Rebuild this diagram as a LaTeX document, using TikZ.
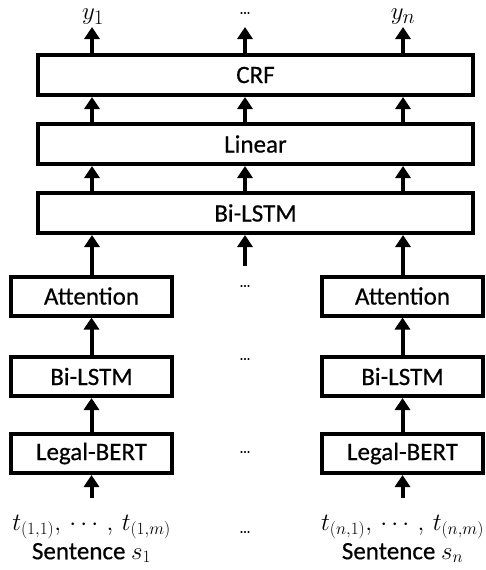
\documentclass[tikz,border=0pt]{standalone}
\usepackage{fontspec}
\setmainfont{Carlito}[FakeBold=0.5]
\usetikzlibrary{arrows.meta}
\tikzset{
  box/.style={draw, line width=4pt, rectangle, inner sep=0pt, font=\fontsize{25}{28}\selectfont},
  wide/.style={box, minimum width=435pt, minimum height=40pt},
  small/.style={box, minimum width=161pt, minimum height=39pt},
  arr/.style={line width=4pt, -{Triangle[width=15pt,length=12pt]}},
  lbl/.style={font=\fontsize{25}{28}\selectfont, inner sep=0pt},
  ylbl/.style={font=\fontsize{30}{32}\selectfont, inner sep=0pt},
  dots/.style={font=\fontsize{14}{16}\selectfont, inner sep=0pt}
}
\begin{document}
\begin{tikzpicture}[x=1pt,y=-1pt]
\useasboundingbox (0,0) rectangle (486,570);
% big boxes
\node[wide] (crf) at (255.5,75) {CRF};
\node[wide] (lin) at (255.5,144) {Linear};
\node[wide] (bil) at (255.5,213) {Bi-LSTM};
% small boxes
\node[small] (attL) at (91.5,296) {Attention};
\node[small] (bilL) at (91.5,376.5) {Bi-LSTM};
\node[small] (berL) at (91.5,453.5) {Legal-BERT};
\node[small] (attR) at (402.5,296) {Attention};
\node[small] (bilR) at (402.5,376.5) {Bi-LSTM};
\node[small] (berR) at (402.5,453.5) {Legal-BERT};
% column coordinates
\coordinate (cL) at (92,0);
\coordinate (cM) at (245,0);
\coordinate (cR) at (403,0);
% outputs
\node[ylbl] (y1) at (93,17) {$y_1$};
\node[dots] (ydots) at (245,13) {\dots};
\node[ylbl] (yn) at (403,17) {$y_n$};
\coordinate (oL) at (92,27);
\coordinate (oM) at (245,27);
\coordinate (oR) at (403,27);
\foreach \c/\o in {cL/oL,cM/oM,cR/oR}{
  \draw[arr] (crf.north -| \c) -- (\o);
  \draw[arr] (lin.north -| \c) -- (crf.south -| \c);
  \draw[arr] (bil.north -| \c) -- (lin.south -| \c);
}
% small to big
\draw[arr] (attL.north -| cL) -- (bil.south -| cL);
\draw[arr] (attR.north -| cR) -- (bil.south -| cR);
\coordinate (mS) at (245,266);
\draw[arr] (mS) -- (bil.south -| cM);
% within columns
\draw[arr] (bilL.north) -- (attL.south);
\draw[arr] (berL.north) -- (bilL.south);
\draw[arr] (bilR.north) -- (attR.south);
\draw[arr] (berR.north) -- (bilR.south);
\coordinate (iL) at (91.5,498);
\coordinate (iR) at (402.5,498);
\draw[arr] (iL) -- (berL.south);
\draw[arr] (iR) -- (berR.south);
% middle dots
\node[dots] (d1) at (245,286) {\dots};
\node[dots] (d2) at (245,359) {\dots};
\node[dots] (d3) at (245,452) {\dots};
\node[dots] (d4) at (245,532) {\dots};
% inputs
\node[lbl] (tL) at (91.5,527) {$t_{(1,1)},\, \cdots\, ,\, t_{(1,m)}$};
\node[lbl] (sL) at (91.5,553) {Sentence $s_1$};
\node[lbl] (tR) at (402.5,527) {$t_{(n,1)},\, \cdots\, ,\, t_{(n,m)}$};
\node[lbl] (sR) at (402.5,553) {Sentence $s_n$};
\end{tikzpicture}
\end{document}
